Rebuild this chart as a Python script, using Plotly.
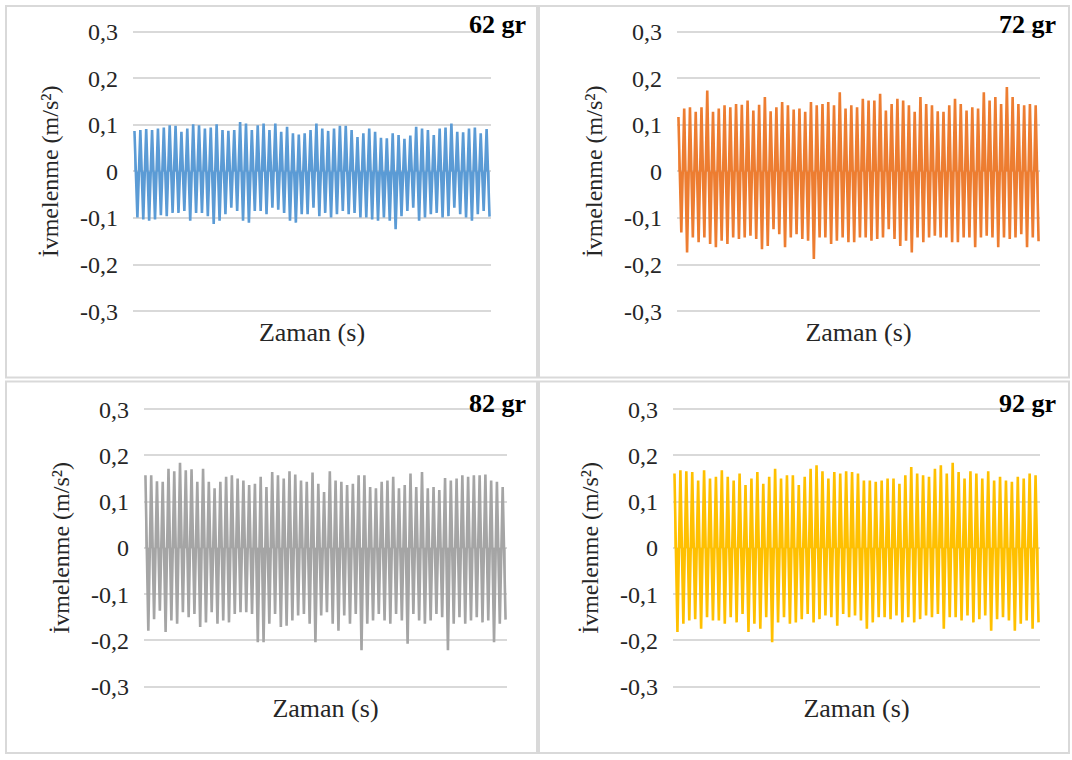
import plotly.graph_objects as go

# Peak (positive) and trough (negative) accelerations per oscillation cycle, m/s^2
peaks_62 = [0.087, 0.089, 0.091, 0.089, 0.092, 0.094, 0.099, 0.098, 0.085, 0.092, 0.101, 0.099,
            0.092, 0.094, 0.101, 0.089, 0.087, 0.089, 0.106, 0.103, 0.089, 0.099, 0.103, 0.089,
            0.103, 0.085, 0.096, 0.082, 0.079, 0.082, 0.089, 0.103, 0.092, 0.087, 0.092, 0.098,
            0.098, 0.089, 0.074, 0.082, 0.092, 0.085, 0.072, 0.071, 0.082, 0.078, 0.070, 0.077,
            0.096, 0.092, 0.089, 0.078, 0.092, 0.094, 0.103, 0.085, 0.084, 0.092, 0.094, 0.082, 0.091]
troughs_62 = [-0.099, -0.103, -0.106, -0.103, -0.094, -0.096, -0.089, -0.089, -0.085, -0.106, -0.089, -0.089,
              -0.096, -0.113, -0.106, -0.092, -0.078, -0.085, -0.106, -0.110, -0.085, -0.085, -0.092, -0.078,
              -0.082, -0.089, -0.106, -0.110, -0.092, -0.092, -0.078, -0.096, -0.089, -0.099, -0.092, -0.085,
              -0.092, -0.089, -0.099, -0.099, -0.103, -0.106, -0.099, -0.106, -0.124, -0.096, -0.085, -0.078,
              -0.106, -0.099, -0.092, -0.089, -0.099, -0.096, -0.078, -0.092, -0.099, -0.106, -0.092, -0.085, -0.097]

peaks_72 = [0.117, 0.135, 0.138, 0.128, 0.138, 0.174, 0.128, 0.135, 0.142, 0.138, 0.145, 0.143,
            0.152, 0.131, 0.143, 0.160, 0.129, 0.138, 0.149, 0.142, 0.133, 0.135, 0.128, 0.149,
            0.142, 0.145, 0.149, 0.142, 0.170, 0.135, 0.142, 0.138, 0.156, 0.152, 0.152, 0.167,
            0.131, 0.145, 0.156, 0.152, 0.142, 0.128, 0.160, 0.145, 0.142, 0.129, 0.128, 0.142,
            0.156, 0.145, 0.131, 0.138, 0.135, 0.170, 0.152, 0.160, 0.145, 0.181, 0.160, 0.145,
            0.142, 0.145, 0.142]
troughs_72 = [-0.131, -0.174, -0.142, -0.152, -0.142, -0.156, -0.163, -0.149, -0.156, -0.142, -0.145, -0.142,
              -0.138, -0.145, -0.167, -0.160, -0.124, -0.135, -0.163, -0.142, -0.135, -0.145, -0.149, -0.188,
              -0.142, -0.142, -0.156, -0.149, -0.142, -0.152, -0.152, -0.142, -0.142, -0.149, -0.145, -0.142,
              -0.124, -0.145, -0.160, -0.149, -0.174, -0.142, -0.152, -0.142, -0.138, -0.142, -0.142, -0.152,
              -0.152, -0.142, -0.142, -0.163, -0.142, -0.138, -0.142, -0.163, -0.142, -0.145, -0.142, -0.135,
              -0.163, -0.142, -0.150]

peaks_82 = [0.157, 0.157, 0.144, 0.143, 0.171, 0.166, 0.184, 0.168, 0.170, 0.143, 0.171, 0.143,
            0.129, 0.143, 0.154, 0.157, 0.150, 0.146, 0.136, 0.139, 0.154, 0.132, 0.164, 0.157,
            0.150, 0.166, 0.159, 0.146, 0.143, 0.163, 0.139, 0.121, 0.166, 0.146, 0.143, 0.136,
            0.139, 0.157, 0.157, 0.132, 0.129, 0.143, 0.146, 0.154, 0.129, 0.136, 0.161, 0.132,
            0.164, 0.129, 0.132, 0.125, 0.151, 0.146, 0.150, 0.157, 0.154, 0.157, 0.157, 0.159,
            0.146, 0.143, 0.132]
troughs_82 = [-0.179, -0.154, -0.136, -0.182, -0.157, -0.164, -0.139, -0.150, -0.143, -0.171, -0.161, -0.139,
              -0.164, -0.157, -0.161, -0.143, -0.139, -0.139, -0.143, -0.204, -0.204, -0.164, -0.143, -0.171,
              -0.168, -0.157, -0.146, -0.143, -0.164, -0.204, -0.146, -0.139, -0.164, -0.179, -0.146, -0.164,
              -0.143, -0.221, -0.164, -0.157, -0.143, -0.157, -0.164, -0.143, -0.157, -0.207, -0.143, -0.157,
              -0.164, -0.157, -0.143, -0.150, -0.221, -0.164, -0.150, -0.164, -0.157, -0.150, -0.161, -0.157,
              -0.204, -0.164, -0.155]

peaks_92 = [0.161, 0.168, 0.166, 0.164, 0.146, 0.168, 0.150, 0.154, 0.168, 0.154, 0.146, 0.161,
            0.136, 0.150, 0.164, 0.139, 0.154, 0.171, 0.150, 0.157, 0.157, 0.136, 0.154, 0.171,
            0.179, 0.166, 0.150, 0.164, 0.161, 0.166, 0.164, 0.161, 0.146, 0.146, 0.143, 0.146,
            0.150, 0.150, 0.139, 0.157, 0.175, 0.161, 0.157, 0.154, 0.171, 0.179, 0.161, 0.184,
            0.164, 0.150, 0.166, 0.161, 0.150, 0.166, 0.146, 0.154, 0.146, 0.143, 0.154, 0.150,
            0.161, 0.157]
troughs_92 = [-0.182, -0.164, -0.157, -0.154, -0.175, -0.150, -0.157, -0.157, -0.164, -0.150, -0.161, -0.143,
              -0.182, -0.164, -0.175, -0.150, -0.204, -0.161, -0.150, -0.164, -0.161, -0.154, -0.143, -0.161,
              -0.154, -0.146, -0.150, -0.168, -0.143, -0.150, -0.146, -0.157, -0.175, -0.161, -0.150, -0.150,
              -0.154, -0.146, -0.161, -0.150, -0.161, -0.154, -0.146, -0.150, -0.143, -0.175, -0.150, -0.150,
              -0.157, -0.146, -0.161, -0.154, -0.146, -0.179, -0.154, -0.150, -0.157, -0.179, -0.164, -0.157,
              -0.175, -0.161]

panel_labels = ["62 gr", "72 gr", "82 gr", "92 gr"]
series_colors = ["#5B9BD5", "#ED7D31", "#A5A5A5", "#FFC000"]
y_ticks = [-0.3, -0.2, -0.1, 0, 0.1, 0.2, 0.3]
y_tick_text = ["-0,3", "-0,2", "-0,1", "0", "0,1", "0,2", "0,3"]
x_title = "Zaman (s)"
y_title = "İvmelenme (m/s²)"

W, H = 1072, 760
FONT = "Liberation Serif, Times New Roman, DejaVu Serif, serif"
TEXT = "#262626"
Y_LIM = 0.32  # axis range is padded past the ±0.3 gridlines

# pixel layout of each panel: frame box, plot area (x0, y of +0.3, x1, y of -0.3), tag anchor
panels = [
    dict(peaks=peaks_62, troughs=troughs_62, box=(6, 3, 537, 378), plot=(133, 29, 491, 311),
         tag=(528, 22)),
    dict(peaks=peaks_72, troughs=troughs_72, box=(539, 3, 1069, 378), plot=(677, 29, 1040, 311),
         tag=(1058, 22)),
    dict(peaks=peaks_82, troughs=troughs_82, box=(6, 382, 537, 757), plot=(144, 410, 507, 690),
         tag=(528, 404)),
    dict(peaks=peaks_92, troughs=troughs_92, box=(539, 382, 1069, 757), plot=(673, 410, 1040, 690),
         tag=(1058, 404)),
]


def px(x):
    return x / W


def py(y):
    return 1 - y / H


fig = go.Figure()
shapes = []
annotations = []

for k, p in enumerate(panels):
    n = min(len(p["peaks"]), len(p["troughs"]))
    xs, ys = [], []
    for i in range(n):
        xs += [i, i + 0.5]
        ys += [p["peaks"][i], p["troughs"][i]]
    ax = "" if k == 0 else str(k + 1)
    fig.add_trace(go.Scatter(
        x=xs, y=ys, mode="lines", xaxis="x" + ax, yaxis="y" + ax,
        line=dict(color=series_colors[k], width=2.6),
        fill="tozeroy", fillcolor=series_colors[k],
        showlegend=False, hoverinfo="skip",
    ))
    x0, y_top, x1, y_bot = p["plot"]
    # stretch the domain so that ±0.3 land on y_top / y_bot while the range spans ±Y_LIM
    per_unit = (y_bot - y_top) / 0.6
    pad = (Y_LIM - 0.3) * per_unit
    fig.layout["xaxis" + ax] = dict(
        domain=[px(x0), px(x1)], range=[-0.25, n - 0.25], anchor="y" + ax,
        showgrid=False, zeroline=False, showline=False, showticklabels=False,
        title=dict(text=x_title, standoff=2, font=dict(family=FONT, size=26, color=TEXT)),
        automargin=True,
    )
    fig.layout["yaxis" + ax] = dict(
        domain=[py(y_bot + pad), py(y_top - pad)], range=[-Y_LIM, Y_LIM], anchor="x" + ax,
        tickvals=y_ticks, ticktext=y_tick_text, ticks="", ticklabelstandoff=14,
        showgrid=True, gridcolor="#d9d9d9", gridwidth=1.6,
        zeroline=False, showline=False,
        tickfont=dict(family=FONT, size=24, color=TEXT),
        title=dict(text=y_title, standoff=14, font=dict(family=FONT, size=24, color=TEXT)),
        automargin=True,
    )
    bx0, by0, bx1, by1 = p["box"]
    shapes.append(dict(type="rect", xref="paper", yref="paper",
                       x0=px(bx0), x1=px(bx1), y0=py(by1), y1=py(by0),
                       line=dict(color="#d9d9d9", width=2), layer="below"))
    annotations.append(dict(text=panel_labels[k], xref="paper", yref="paper",
                            x=px(p["tag"][0]), y=py(p["tag"][1]),
                            showarrow=False, xanchor="right", yanchor="middle",
                            font=dict(family=FONT, size=26, color="#000000", weight="bold")))

fig.update_layout(
    width=W, height=H, margin=dict(l=0, r=0, t=0, b=0),
    paper_bgcolor="white", plot_bgcolor="white",
    shapes=shapes, annotations=annotations,
)

fig.write_html("out.html", config={"displayModeBar": False})
